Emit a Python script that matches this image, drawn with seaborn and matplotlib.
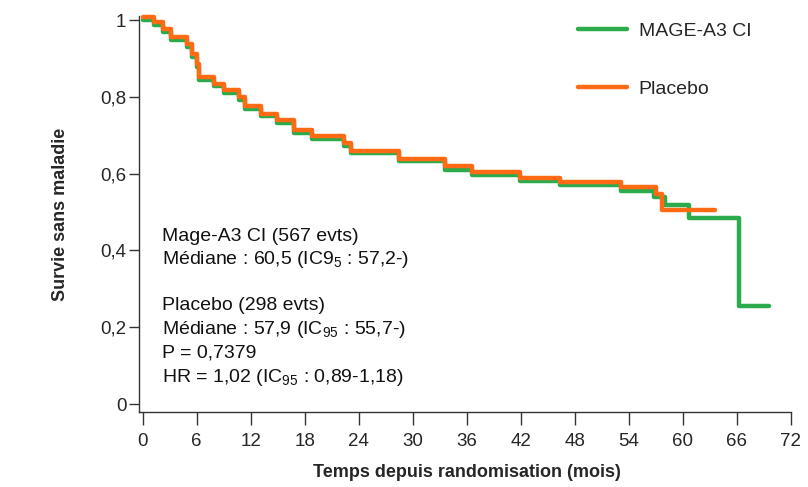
import pandas as pd
import matplotlib
matplotlib.use('Agg')
import matplotlib.pyplot as plt
import seaborn as sns

# Survival steps (months, survival probability)
t_mage = [0, 1.3, 2.3, 3.2, 4.9, 5.45, 6.0, 6.3, 7.9, 9.0, 10.7, 11.4, 13.2, 14.9,
          16.8, 18.8, 22.4, 23.2, 28.5, 33.6, 36.6, 41.9, 46.4, 53.1, 56.8, 58.0,
          60.7, 66.3, 69.6]
s_mage = [1.0, 0.987, 0.969, 0.948, 0.931, 0.905, 0.879, 0.845, 0.828, 0.811, 0.793,
          0.769, 0.750, 0.733, 0.707, 0.691, 0.673, 0.653, 0.632, 0.610, 0.596, 0.581,
          0.571, 0.555, 0.538, 0.518, 0.484, 0.255, 0.255]

t_placebo = [0, 1.3, 2.3, 3.2, 4.9, 5.45, 6.0, 6.3, 7.9, 9.0, 10.7, 11.4, 13.2, 14.9,
             16.8, 18.8, 22.4, 23.2, 28.5, 33.6, 36.6, 41.9, 46.4, 53.1, 57.0, 57.7, 63.6]
s_placebo = [1.007, 0.994, 0.976, 0.955, 0.938, 0.912, 0.886, 0.851, 0.834, 0.817, 0.799,
             0.775, 0.756, 0.739, 0.713, 0.697, 0.679, 0.659, 0.639, 0.619, 0.603, 0.589,
             0.579, 0.566, 0.546, 0.506, 0.506]

groups = ['MAGE-A3 CI', 'Placebo']
colors = ['#2bab4b', '#ff6b14']

y_ticks = [0, 0.2, 0.4, 0.6, 0.8, 1]
y_ticklabels = ['0', '0,2', '0,4', '0,6', '0,8', '1']
x_ticks = list(range(0, 73, 6))

notes = [
    'Mage-A3 CI (567 evts)',
    'Médiane : 60,5 (IC9$_5$ : 57,2-)',
    'Placebo (298 evts)',
    'Médiane : 57,9 (IC$_{95}$ : 55,7-)',
    'P = 0,7379',
    'HR = 1,02 (IC$_{95}$ : 0,89-1,18)',
]
note_y = [0.424, 0.365, 0.245, 0.182, 0.120, 0.057]

df = pd.concat([
    pd.DataFrame({'mois': t_mage, 'survie': s_mage, 'groupe': groups[0]}),
    pd.DataFrame({'mois': t_placebo, 'survie': s_placebo, 'groupe': groups[1]}),
], ignore_index=True)

sns.set_style('white')
plt.rcParams['font.family'] = ['Liberation Sans', 'DejaVu Sans']
plt.rcParams['mathtext.fontset'] = 'custom'
plt.rcParams['mathtext.rm'] = 'Liberation Sans'
plt.rcParams['mathtext.default'] = 'regular'

fig = plt.figure(figsize=(8.08, 4.87), dpi=100)
ax = fig.add_axes([0.1720, 0.1546, 0.8233, 0.8279])

sns.lineplot(data=df, x='mois', y='survie', hue='groupe', hue_order=groups,
             palette=colors, estimator=None, sort=False, drawstyle='steps-post',
             linewidth=3.2, ax=ax)

ax.set_xlim(-0.41, 73.5)
ax.set_ylim(-0.02, 1.03)
ax.set_xticks(x_ticks)
ax.set_xticklabels([str(v) for v in x_ticks], fontsize=13.5)
ax.set_yticks(y_ticks)
ax.set_yticklabels(y_ticklabels, fontsize=13.5)
ax.tick_params(axis='both', bottom=True, left=True, direction='out',
               width=1, color='#333333')
ax.tick_params(axis='x', length=9, pad=6)
ax.tick_params(axis='y', length=7, pad=2)

for side in ['top', 'right']:
    ax.spines[side].set_visible(False)
for side in ['left', 'bottom']:
    ax.spines[side].set_color('#333333')
    ax.spines[side].set_linewidth(1)
ax.spines['bottom'].set_bounds(-0.41, 72)
ax.spines['left'].set_bounds(-0.02, 1.01)

ax.set_xlabel('Temps depuis randomisation (mois)', fontsize=13, fontweight='bold')
ax.set_ylabel('Survie sans maladie', fontsize=13, fontweight='bold')
ax.xaxis.set_label_coords(0.493, -0.13)
ax.yaxis.set_label_coords(-0.105, 0.49)

for txt, yv in zip(notes, note_y):
    ax.text(2.1, yv, txt, fontsize=14, va='baseline', ha='left', color='#111111')

leg = ax.legend(loc='upper left', bbox_to_anchor=(578 / 808, 1 - 22 / 487),
                bbox_transform=fig.transFigure, frameon=False, fontsize=14,
                handlelength=2.5, handletextpad=0.62, labelspacing=2.1,
                borderpad=0, borderaxespad=0)
for line in leg.get_lines():
    line.set_linewidth(3.2)

fig.savefig('out.png', dpi=100)
